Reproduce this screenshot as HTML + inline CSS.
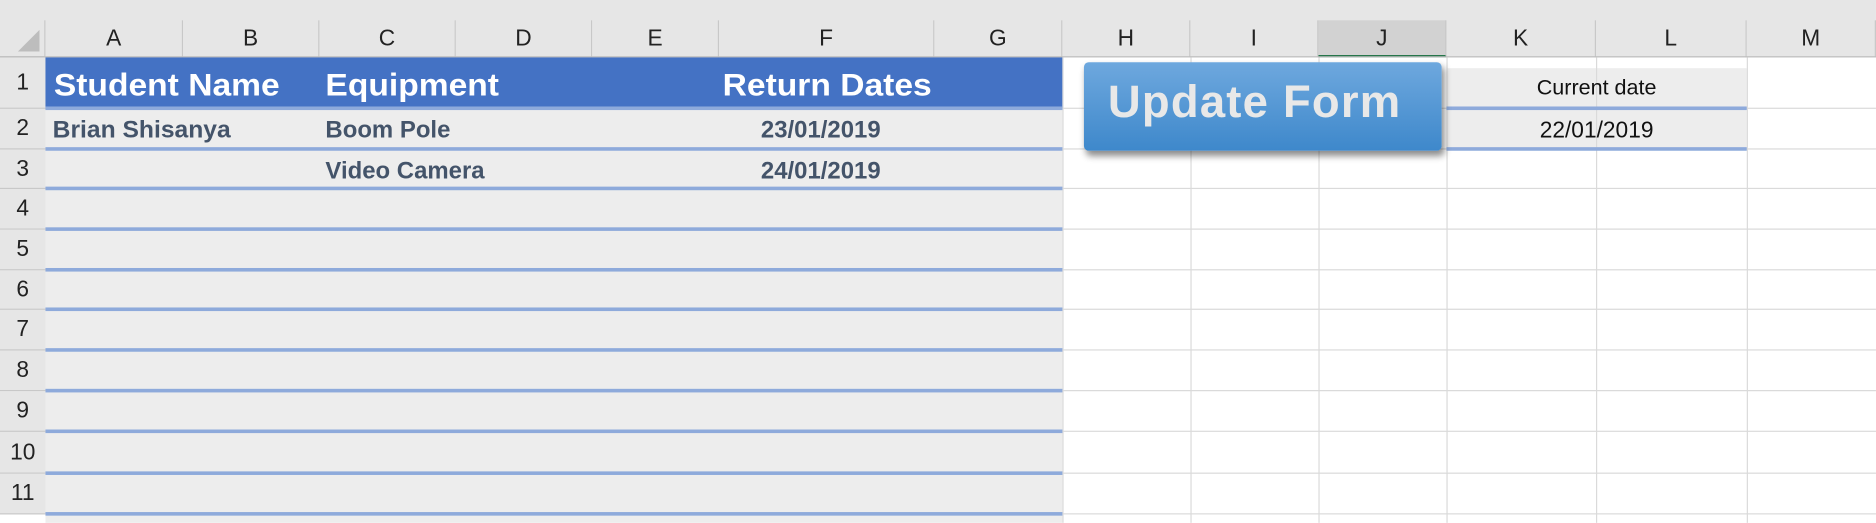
<!DOCTYPE html>
<html><head><meta charset="utf-8"><style>
html,body{margin:0;padding:0;width:1876px;height:522px;overflow:hidden;background:#fff;font-family:"Liberation Sans",Arial,sans-serif}
#w{position:absolute;left:0;top:0;width:1568px;height:437px;transform:scale(1.1964);transform-origin:0 0;background:#fff}
.a{position:absolute;box-sizing:border-box}
.ch{top:17px;height:31px;border-right:1px solid #c8c8c8;background:#e6e6e6;text-align:center;line-height:31px;font-size:19px;color:#222}
.rh{left:0;width:38px;border-bottom:1px solid #c8c8c8;background:#e6e6e6;text-align:center;font-size:19px;color:#222}
.vl{top:48px;bottom:0;width:1px;background:#dadada}
.hl{left:888px;right:0;height:1px;background:#dadada}
.bl{height:3px;background:#8eaadb}
.t{position:absolute;font-weight:bold;white-space:nowrap}
</style></head><body>
<div id="w">
<div class="a" style="left:0;top:0;width:1568px;height:48px;background:#e6e6e6"></div>
<div class="a" style="left:0;top:17px;width:38px;height:31px;border-right:1px solid #c8c8c8;border-bottom:1px solid #c8c8c8"><div style="position:absolute;right:4px;bottom:4px;width:0;height:0;border-left:18px solid transparent;border-bottom:18px solid #bdbdbd"></div></div>
<div id="cols"></div>
<div id="rows"></div>
<div class="a" style="left:0;top:47px;width:1568px;height:1px;background:#bdbdbd"></div>
<div class="a" style="left:38px;top:48px;width:850px;height:43px;background:#4472c4"></div>
<div class="a" style="left:38px;top:91px;width:850px;height:346px;background:#ededed"></div>
<div class="a" style="left:1209px;top:57px;width:251px;height:68px;background:#ededed"></div>
<div id="lines"></div>
<div class="t" style="left:45px;top:56px;font-size:26px;color:#fff;transform:scaleX(1.08);transform-origin:0 0">Student Name</div>
<div class="t" style="left:272px;top:56px;font-size:26px;color:#fff;transform:scaleX(1.08);transform-origin:0 0">Equipment</div>
<div class="t" style="left:604px;top:56px;font-size:26px;color:#fff;transform:scaleX(1.08);transform-origin:0 0">Return Dates</div>
<div class="t" style="left:44px;top:98px;font-size:20px;color:#44546a;transform:scaleX(1.03);transform-origin:0 0">Brian Shisanya</div>
<div class="t" style="left:272px;top:98px;font-size:20px;color:#44546a">Boom Pole</div>
<div class="t" style="left:272px;top:132px;font-size:20px;color:#44546a">Video Camera</div>
<div class="t" style="left:636px;top:98px;font-size:20px;color:#44546a">23/01/2019</div>
<div class="t" style="left:636px;top:132px;font-size:20px;color:#44546a">24/01/2019</div>
<div class="t" style="left:1209px;width:251px;text-align:center;top:63px;font-size:18px;font-weight:normal;color:#111">Current date</div>
<div class="t" style="left:1209px;width:251px;text-align:center;top:99px;font-size:19px;font-weight:normal;color:#111">22/01/2019</div>
<div class="a" style="left:906px;top:52px;width:299px;height:74px;border-radius:4px;background:linear-gradient(#6ea8de,#3e88cb);box-shadow:2px 4px 6px rgba(0,0,0,.45);color:#e8e8e8;font-size:38px;font-weight:bold;line-height:68px;padding-left:20px;letter-spacing:1px;white-space:nowrap">Update Form</div>
</div>
<script>
const cols=['A','B','C','D','E','F','G','H','I','J','K','L','M'];
const edges=[38,153,267,381,495,601,781,888,995,1102,1209,1334,1460,1568];
const rowEdges=[48,91,125,158,192,226,259,293,327,361,396,430,437];
const C=document.getElementById('cols'),R=document.getElementById('rows'),L=document.getElementById('lines');
cols.forEach((c,i)=>{const d=document.createElement('div');d.className='a ch';


d.style.left=edges[i]+'px';d.style.width=(edges[i+1]-edges[i])+'px';d.textContent=c;
if(c==='J'){d.style.background='#d2d2d2';d.style.borderBottom='2px solid #217346';}
C.appendChild(d);
if(i>=7){const v=document.createElement('div');v.className='a vl';v.style.left=edges[i]+'px';L.appendChild(v);}});
for(let r=0;r<11;r++){const d=document.createElement('div');d.className='a rh';


d.style.top=rowEdges[r]+'px';d.style.height=(rowEdges[r+1]-rowEdges[r])+'px';d.style.lineHeight=(rowEdges[r+1]-rowEdges[r])+'px';d.textContent=r+1;R.appendChild(d);
const h=document.createElement('div');h.className='a hl';h.style.top=rowEdges[r+1]-1+'px';L.appendChild(h);
const b=document.createElement('div');b.className='a bl';b.style.left='38px';b.style.width='850px';b.style.top=(rowEdges[r+1]-2)+'px';L.appendChild(b);}
[91,125].forEach(y=>{const b=document.createElement('div');b.className='a bl';b.style.left='1209px';b.style.width='251px';b.style.top=(y-2)+'px';L.appendChild(b);});
</script>
</body></html>
